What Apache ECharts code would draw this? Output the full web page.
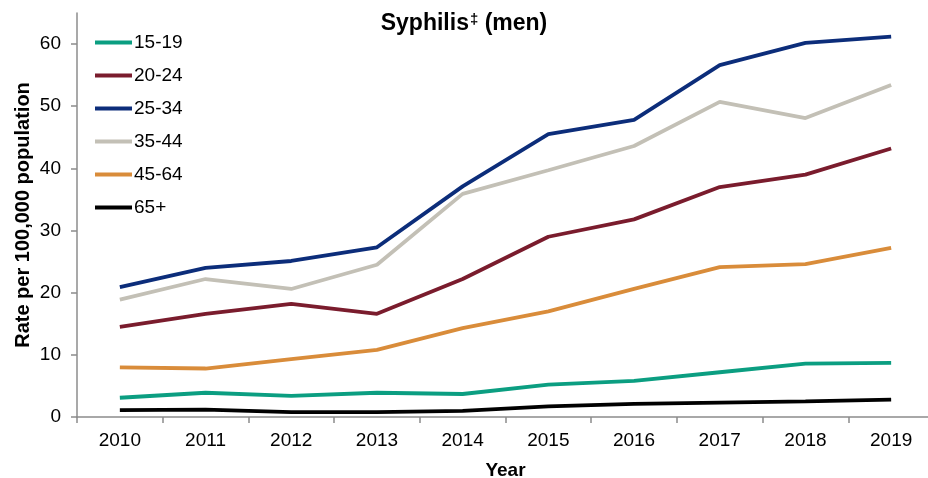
<!DOCTYPE html>
<html>
<head>
<meta charset="utf-8">
<script src="https://cdn.jsdelivr.net/npm/echarts@6/dist/echarts.min.js"></script>
<style>
  html, body { margin: 0; padding: 0; background: #fff; }
  #main { width: 928px; height: 478px; }
</style>
</head>
<body>
<div id="main"></div>
<script>
var years = ['2010', '2011', '2012', '2013', '2014', '2015', '2016', '2017', '2018', '2019'];
var yTicks = [0, 10, 20, 30, 40, 50, 60];

var age1519 = [3.1, 3.9, 3.4, 3.9, 3.7, 5.2, 5.8, 7.2, 8.6, 8.7];
var age2024 = [14.5, 16.6, 18.2, 16.6, 22.2, 29.0, 31.8, 37.0, 39.0, 43.2];
var age2534 = [20.9, 24.0, 25.1, 27.3, 37.1, 45.5, 47.8, 56.6, 60.2, 61.2];
var age3544 = [18.9, 22.2, 20.6, 24.5, 35.9, 39.7, 43.6, 50.7, 48.1, 53.4];
var age4564 = [8.0, 7.8, 9.3, 10.8, 14.3, 17.0, 20.6, 24.1, 24.6, 27.2];
var age65 = [1.1, 1.2, 0.8, 0.8, 1.0, 1.7, 2.1, 2.3, 2.5, 2.8];

var groups = ['15-19', '20-24', '25-34', '35-44', '45-64', '65+'];
var colors = ['#0b9e81', '#7a1c2d', '#0c2d7a', '#c3c0b6', '#d98c3a', '#000000'];
var values = [age1519, age2024, age2534, age3544, age4564, age65];

var font = 'Liberation Sans, Arial, sans-serif';
var myChart = echarts.init(document.getElementById('main'));

var series = groups.map(function (name, i) {
    return {
        name: name,
        type: 'line',
        data: values[i],
        symbol: 'none',
        lineStyle: { width: 3.8, color: colors[i] },
        itemStyle: { color: colors[i] }
    };
});

myChart.setOption({
    animation: false,
    color: colors,
    title: {
        text: '{a|Syphilis}{b|‡}{a| (men)}',
        left: 'center',
        top: 7,
        textStyle: {
            rich: {
                a: { fontFamily: font, fontSize: 23, fontWeight: 'bold', color: '#000' },
                b: { fontFamily: font, fontSize: 15, fontWeight: 'bold', color: '#000', verticalAlign: 'top', padding: [0, 0, 4, 1] }
            }
        }
    },
    legend: {
        orient: 'vertical',
        left: 90,
        top: 28,
        itemWidth: 37,
        itemHeight: 4,
        itemGap: 14,
        icon: 'rect',
        data: groups,
        textStyle: { fontFamily: font, fontSize: 19, color: '#000', lineHeight: 19, padding: [0, 0, 0, -3] }
    },
    grid: {
        left: 77,
        right: -6,
        top: 13,
        bottom: 61,
        outerBoundsMode: 'none',
        containLabel: false
    },
    xAxis: {
        type: 'category',
        data: years,
        boundaryGap: true,
        name: 'Year',
        nameLocation: 'middle',
        nameGap: 44,
        nameMoveOverlap: false,
        nameTextStyle: { fontFamily: font, fontSize: 19, fontWeight: 'bold', color: '#000' },
        axisLine: { lineStyle: { color: '#8c8c8c', width: 1.5 } },
        axisTick: { show: true, length: 6, lineStyle: { color: '#8c8c8c', width: 1.5 } },
        axisLabel: { fontFamily: font, fontSize: 19, color: '#000', margin: 14 }
    },
    yAxis: {
        type: 'value',
        min: 0,
        max: 65,
        interval: 10,
        name: 'Rate per 100,000 population',
        nameLocation: 'middle',
        nameGap: 44,
        nameMoveOverlap: false,
        nameTextStyle: { fontFamily: font, fontSize: 20, fontWeight: 'bold', color: '#000' },
        splitLine: { show: false },
        axisLine: { show: true, lineStyle: { color: '#8c8c8c', width: 1.5 } },
        axisTick: { show: true, length: 6, customValues: yTicks, lineStyle: { color: '#8c8c8c', width: 1.5 } },
        axisLabel: { fontFamily: font, fontSize: 19, color: '#000', margin: 16, customValues: yTicks }
    },
    series: series
});
</script>
</body>
</html>
